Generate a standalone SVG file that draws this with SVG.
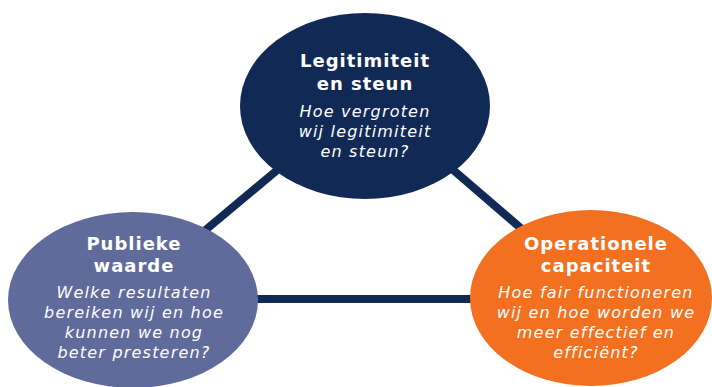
<svg xmlns="http://www.w3.org/2000/svg" width="712" height="387" viewBox="0 0 712 387">
<style>
.t{font-family:"DejaVu Sans","Verdana",sans-serif;fill:#ffffff;text-anchor:middle}
.b{font-weight:bold;font-size:18px;letter-spacing:1px}
.i{font-style:italic;font-size:16px;letter-spacing:1.2px}
.c{stroke:#112a55;stroke-width:8;fill:none}
</style>
<rect width="712" height="387" fill="#ffffff"/>
<g id="connectors">
<line class="c" x1="190" y1="243" x2="300" y2="151"/>
<line class="c" x1="430" y1="150" x2="545" y2="249"/>
<line class="c" x1="250" y1="299" x2="480" y2="299"/>
</g>
<g id="legitimiteit">
<ellipse cx="365" cy="106" rx="125" ry="93" fill="#112a55"/>
<text class="t b" x="365" y="67">Legitimiteit</text>
<text class="t b" x="365" y="90">en steun</text>
<text class="t i" x="365" y="117">Hoe vergroten</text>
<text class="t i" x="365" y="137">wij legitimiteit</text>
<text class="t i" x="365" y="157">en steun?</text>
</g>
<g id="publieke">
<ellipse cx="133" cy="300" rx="125" ry="88" fill="#5f6b9b"/>
<text class="t b" x="134" y="250">Publieke</text>
<text class="t b" x="134" y="272">waarde</text>
<text class="t i" x="134" y="298">Welke resultaten</text>
<text class="t i" x="134" y="318">bereiken wij en hoe</text>
<text class="t i" x="134" y="338">kunnen we nog</text>
<text class="t i" x="134" y="358">beter presteren?</text>
</g>
<g id="operationele">
<ellipse cx="591" cy="298" rx="121" ry="88" fill="#f37021"/>
<text class="t b" x="596" y="250">Operationele</text>
<text class="t b" x="596" y="272">capaciteit</text>
<text class="t i" x="596" y="298">Hoe fair functioneren</text>
<text class="t i" x="596" y="318">wij en hoe worden we</text>
<text class="t i" x="596" y="338">meer effectief en</text>
<text class="t i" x="596" y="358">efficiënt?</text>
</g>
</svg>
